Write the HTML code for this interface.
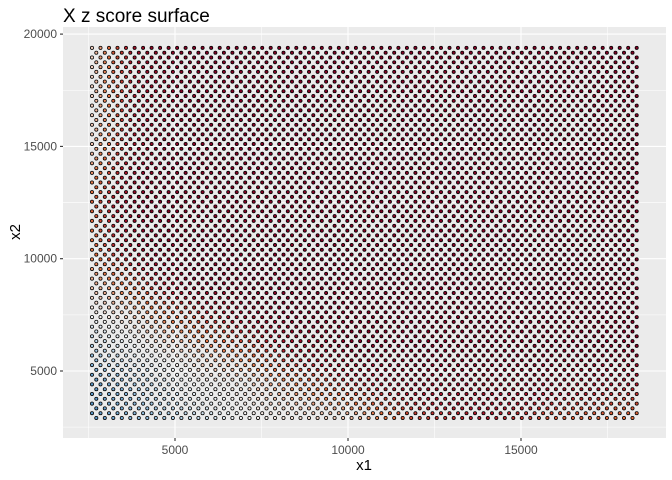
<!DOCTYPE html>
<html><head><meta charset="utf-8"><style>
body{margin:0;background:#fff;}
svg{display:block;font-family:"Liberation Sans",Arial,sans-serif;}
</style></head><body>
<svg id="chart" width="672" height="480">
<rect width="672" height="480" fill="#fff"/>
<text x="63" y="22" font-size="19" fill="#000">X z score surface</text>
<rect x="63" y="27" width="603" height="411" fill="#EBEBEB"/>
<g id="grid"></g>
<g id="pts"></g>
<g id="axes"></g>
<text x="364" y="470" font-size="15" text-anchor="middle">x1</text>
<text transform="translate(20,232) rotate(-90)" font-size="15" text-anchor="middle">x2</text>
</svg>
<script>
const xTicks=[5000,10000,15000];
const yTicks=[5000,10000,15000,20000];
const xMinor=[2500,7500,12500,17500];
const yMinor=[2500,7500,12500,17500];
const xStart=2601, xStep=123, xCount=129;
const yStart=2907, yStep=214, yCount=78;
const zGridX=[2600,4000,5500,7000,8500,10000,12000,14000,16000,18400];
const zGridY=[3000,4500,6000,7500,9000,10500,12500,15000,17500,19400];
const zGrid=[
[-1.5,-1.0,-0.5,0,0.2,0.4,1.5,2,1.3,1.0],
[-1.5,-0.8,0,0.3,1.0,1.8,2.5,2.5,2.5,2.0],
[-0.8,0,0.5,1.2,2.2,3,3,3,3,3],
[0,0.6,1.5,2.5,3,3,3,3,3,3],
[0.5,1.5,3,3,3,3,3,3,3,3],
[1.0,2.8,3,3,3,3,3,3,3,3],
[1.2,3,3,3,3,3,3,3,3,3],
[0.4,2.5,3,3,3,3,3,3,3,3],
[0.3,2.3,3,3,3,3,3,3,3,3],
[0.3,2.5,3,3,3,3,3,3,3,3]];
const NS="http://www.w3.org/2000/svg";
const sx=v=>175+(v-5000)*173/5000;
const sy=v=>371-(v-5000)*112.3/5000;
function el(t,a,p){const e=document.createElementNS(NS,t);for(const k in a)e.setAttribute(k,a[k]);p.appendChild(e);return e;}
const grid=document.getElementById('grid'),axes=document.getElementById('axes'),pts=document.getElementById('pts');
xMinor.forEach(v=>{const l=el('line',{x1:sx(v),x2:sx(v),y1:27,y2:438,stroke:'#fff','stroke-width':0.55},grid);

});
yMinor.forEach(v=>{const l=el('line',{x1:63,x2:666,y1:sy(v),y2:sy(v),stroke:'#fff','stroke-width':0.55},grid);

});
xTicks.forEach(v=>{const l=el('line',{x1:sx(v),x2:sx(v),y1:27,y2:438,stroke:'#fff','stroke-width':1.1},grid);


const t=el('line',{x1:sx(v),x2:sx(v),y1:438,y2:441,stroke:'#333','stroke-width':1.1},axes);


const tx=el('text',{x:sx(v),y:454,'font-size':12,'text-anchor':'middle',fill:'#4D4D4D'},axes);tx.textContent=v;

});
yTicks.forEach(v=>{const l=el('line',{x1:63,x2:666,y1:sy(v),y2:sy(v),stroke:'#fff','stroke-width':1.1},grid);


const t=el('line',{x1:60,x2:63,y1:sy(v),y2:sy(v),stroke:'#333','stroke-width':1.1},axes);


const tx=el('text',{x:57,y:sy(v)+4,'font-size':12,'text-anchor':'end',fill:'#4D4D4D'},axes);tx.textContent=v;

});
function idx(arr,v){let i=0;while(i<arr.length-2&&v>arr[i+1])i++;let f=(v-arr[i])/(arr[i+1]-arr[i]);return [i,Math.max(0,Math.min(1,f))];}
function zAt(x,y){const [i,fx]=idx(zGridX,x),[j,fy]=idx(zGridY,y);
const a=zGrid[j][i]*(1-fx)+zGrid[j][i+1]*fx,b=zGrid[j+1][i]*(1-fx)+zGrid[j+1][i+1]*fx;return a*(1-fy)+b*fy;}
const stops=[[-2,[40,110,170]],[-1,[140,185,220]],[0,[250,250,250]],[1,[225,110,60]],[2,[170,20,40]],[3,[130,0,35]]];
function col(z){z=Math.max(-2,Math.min(3,z));let k=0;while(k<stops.length-2&&z>stops[k+1][0])k++;
const f=(z-stops[k][0])/(stops[k+1][0]-stops[k][0]),a=stops[k][1],b=stops[k+1][1];
return 'rgb('+a.map((c,n)=>Math.round(c+(b[n]-c)*f)).join(',')+')';}
for(let r=0;r<yCount;r++){const yv=yStart+(yCount-1-r)*yStep;
for(let c=(r%2);c<xCount;c+=2){const xv=xStart+c*xStep;
const p=el('circle',{cx:sx(xv).toFixed(1),cy:sy(yv).toFixed(1),r:1.6,fill:col(zAt(xv,yv)),stroke:'#000','stroke-width':0.75},pts);

}}
</script>
</body></html>
